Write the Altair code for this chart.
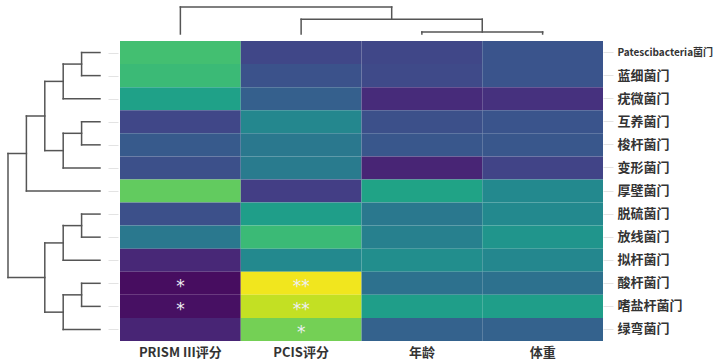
import altair as alt
import pandas as pd

# Phyla (rows, in dendrogram leaf order) and clinical measures (columns)
taxa = [
    "Patescibacteria菌门", "蓝细菌门", "疣微菌门", "互养菌门", "梭杆菌门",
    "变形菌门", "厚壁菌门", "脱硫菌门", "放线菌门", "拟杆菌门",
    "酸杆菌门", "嗜盐杆菌门", "绿弯菌门",
]
measures = ["PRISM III评分", "PCIS评分", "年龄", "体重"]

# Scaled association values per measure (one value per phylum)
prism = [0.70, 0.68, 0.57, 0.21, 0.28, 0.24, 0.76, 0.24, 0.40, 0.11, 0.03, 0.04, 0.10]
pcis = [0.21, 0.25, 0.30, 0.46, 0.40, 0.41, 0.18, 0.56, 0.68, 0.47, 0.98, 0.91, 0.79]
age = [0.21, 0.22, 0.12, 0.24, 0.27, 0.10, 0.58, 0.40, 0.43, 0.49, 0.37, 0.56, 0.31]
weight = [0.26, 0.26, 0.14, 0.26, 0.27, 0.20, 0.47, 0.47, 0.52, 0.46, 0.37, 0.56, 0.31]

# Significance markers
prism_sig = ["", "", "", "", "", "", "", "", "", "", "*", "*", ""]
pcis_sig = ["", "", "", "", "", "", "", "", "", "", "**", "**", "*"]
age_sig = [""] * 13
weight_sig = [""] * 13

# Hierarchical clustering merges: (child a, child b, merge height);
# new clusters are numbered after the leaves in merge order.
row_merges = [
    (0, 1, 1.0), (13, 2, 2.0), (3, 4, 1.0), (15, 5, 2.0), (14, 16, 3.0),
    (17, 6, 4.0), (7, 8, 1.0), (19, 9, 2.0), (10, 11, 1.0), (21, 12, 2.0),
    (20, 22, 3.0), (18, 23, 5.0),
]
col_merges = [(2, 3, 0.15), (1, 4, 1.1), (0, 5, 2.0)]


def dendro_segments(n_leaves, merges):
    pos = {i: i + 0.5 for i in range(n_leaves)}
    hgt = {i: 0.0 for i in range(n_leaves)}
    segs = []
    for k, (a, b, h) in enumerate(merges):
        node = n_leaves + k
        segs.append((pos[a], hgt[a], pos[a], h))
        segs.append((pos[a], h, pos[b], h))
        segs.append((pos[b], h, pos[b], hgt[b]))
        pos[node] = (pos[a] + pos[b]) / 2
        hgt[node] = h
    return pd.DataFrame(segs, columns=["p1", "h1", "p2", "h2"])


cells = pd.DataFrame(
    [
        {"taxon": t, "measure": m, "value": v, "sig": s}
        for m, vals, sigs in [
            (measures[0], prism, prism_sig),
            (measures[1], pcis, pcis_sig),
            (measures[2], age, age_sig),
            (measures[3], weight, weight_sig),
        ]
        for t, v, s in zip(taxa, vals, sigs)
    ]
)

LINE = "#555555"
CJK_FONT = "Noto Sans CJK SC, sans-serif"

row_seg = dendro_segments(len(taxa), row_merges)
col_seg = dendro_segments(len(measures), col_merges)

left = alt.Chart(row_seg).mark_rule(color=LINE, strokeWidth=1.5, strokeCap="square").encode(
    x=alt.X("h1:Q", scale=alt.Scale(domain=[-0.435, 5.163], reverse=True, nice=False, zero=False), axis=None),
    x2="h2",
    y=alt.Y(
        "p1:Q",
        scale=alt.Scale(domain=[0, 13], reverse=True, nice=False, zero=False),
        axis=alt.Axis(
            orient="right", values=[i + 0.5 for i in range(len(taxa))], labels=False,
            domain=False, grid=False, tickSize=10, tickColor="#e3e3e3", title=None,
        ),
    ),
    y2="p2",
).properties(width=103, height=300)

top = alt.Chart(col_seg).mark_rule(color=LINE, strokeWidth=1.5, strokeCap="square").encode(
    x=alt.X("p1:Q", scale=alt.Scale(domain=[0, 4], nice=False, zero=False), axis=None),
    x2="p2",
    y=alt.Y("h1:Q", scale=alt.Scale(domain=[-0.52, 2.296], nice=False, zero=False), axis=None),
    y2="h2",
).properties(width=483, height=38)

corner = alt.Chart(pd.DataFrame({"v": [0]})).mark_point(opacity=0).properties(width=103, height=38)

x_enc = alt.X(
    "measure:N", sort=measures,
    axis=alt.Axis(
        orient="bottom", title=None, labelAngle=0, ticks=False, tickSize=0, domain=False,
        labelPadding=5, labelFontSize=13, labelFont=CJK_FONT, labelFontWeight="bold",
        labelColor="#333333",
    ),
)
# the long Latin name gets a smaller size so the label column stays compact
long_label = "datum.value == 'Patescibacteria菌门'"
y_enc = alt.Y(
    "taxon:N", sort=taxa,
    axis=alt.Axis(
        orient="right", title=None, tickSize=10, tickColor="#e3e3e3", domain=False,
        labelPadding=4,
        labelFontSize=alt.condition(long_label, alt.value(10), alt.value(13)),
        labelFont=CJK_FONT, labelFontWeight="bold", labelColor="#333333",
    ),
)

rects = alt.Chart(cells).mark_rect().encode(
    x=x_enc,
    y=y_enc,
    color=alt.Color("value:Q", scale=alt.Scale(scheme="viridis", domain=[0, 1]), legend=None),
)

stars = alt.Chart(cells).mark_text(
    color="#eeeef4", fontSize=17, dy=4, font="DejaVu Sans"
).encode(x=x_enc, y=y_enc, text="sig:N")

heatmap = alt.layer(rects, stars).properties(width=483, height=300)

chart = alt.concat(
    corner, top, left, heatmap,
    columns=2, spacing={"row": 0, "column": 12}, bounds="flush",
).properties(
    padding={"left": 5, "top": 3, "right": 0, "bottom": 0}, background="white"
).configure_view(stroke=None)

chart.save("out.html", embed_options={"renderer": "svg", "actions": False})
